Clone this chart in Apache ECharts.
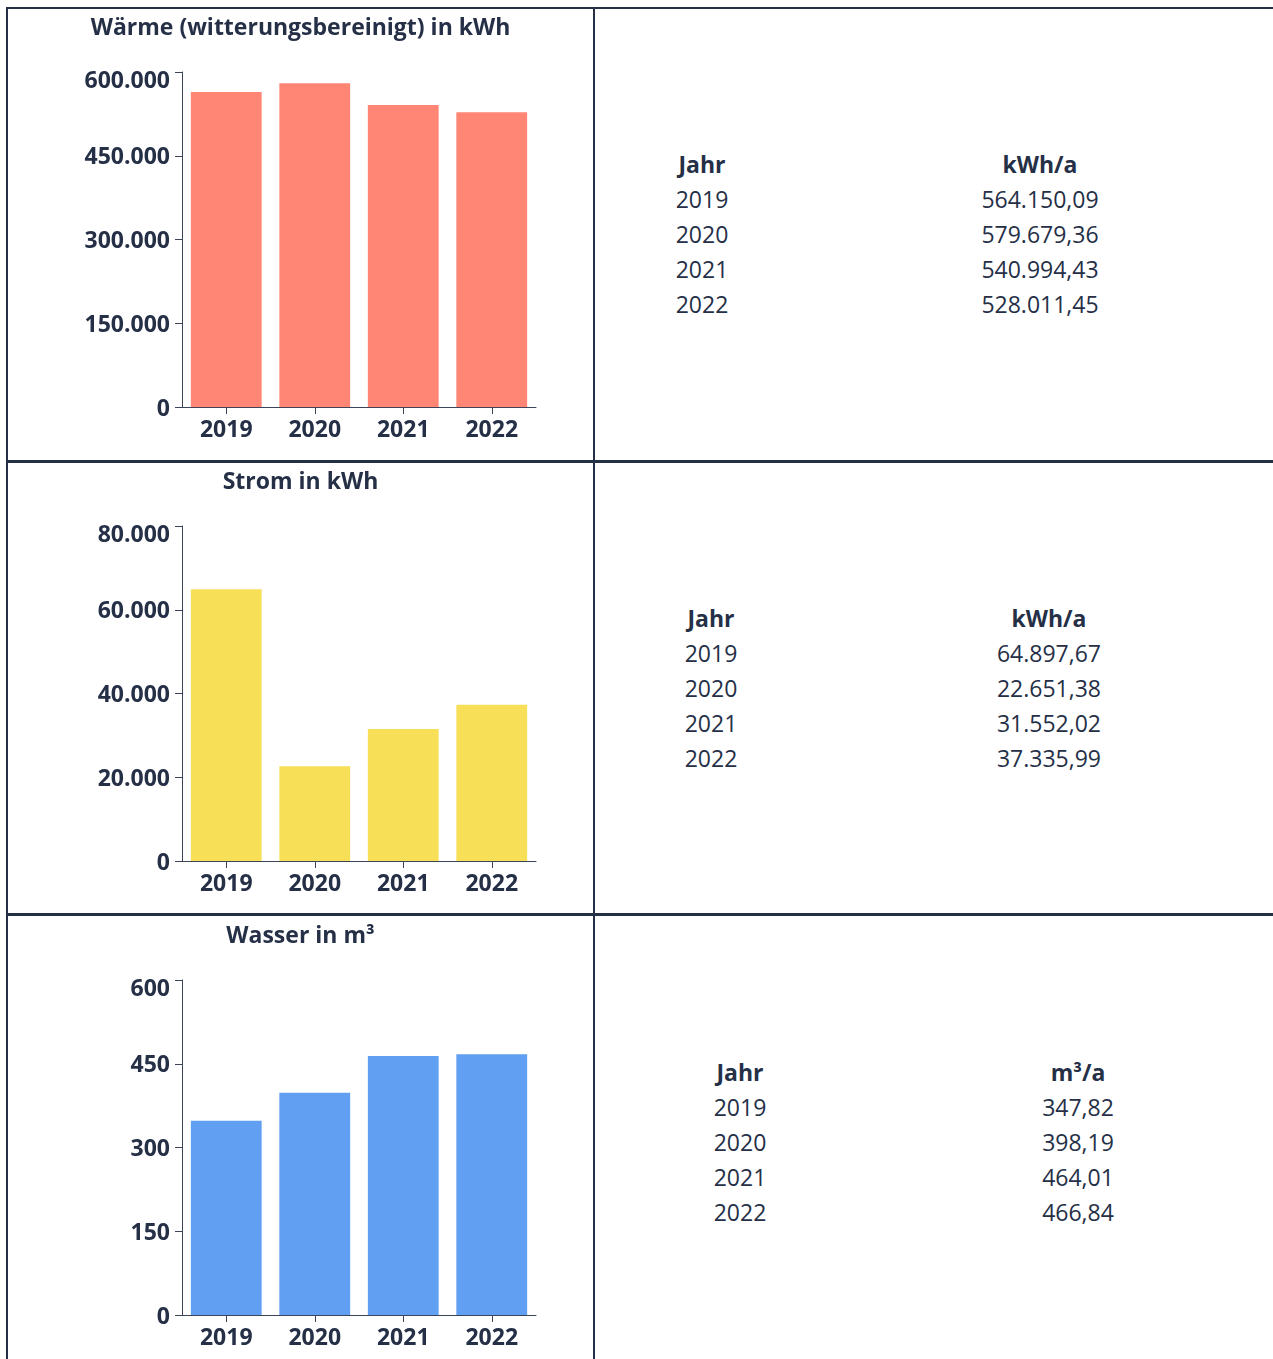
<!DOCTYPE html>
<html lang="de">
<head>
<meta charset="utf-8">
<title>Verbrauch</title>
<script src="https://cdn.jsdelivr.net/npm/echarts@6/dist/echarts.min.js"></script>
<style>
  html, body {
    margin: 0;
    padding: 0;
    background: #ffffff;
  }
  body {
    width: 1273px;
    height: 1359px;
    position: relative;
    overflow: hidden;
    font-family: 'Open Sans', sans-serif;
    color: #253047;
  }
  .line {
    position: absolute;
    background: #253047;
  }
  .chart {
    position: absolute;
    left: 8px;
    width: 585px;
    height: 452px;
  }
  .tbl {
    position: absolute;
    font-size: 23px;
    line-height: 35px;
  }
  .tbl .col {
    position: absolute;
    top: 0;
    text-align: center;
    white-space: nowrap;
  }
  .tbl .head {
    font-weight: 700;
  }
</style>
</head>
<body>
  <div class="line" style="left:6px;top:7px;width:1267px;height:2px"></div>
  <div class="line" style="left:6px;top:7px;width:2px;height:1352px"></div>
  <div class="line" style="left:593px;top:7px;width:2px;height:1352px"></div>
  <div class="line" style="left:6px;top:460px;width:1267px;height:3px"></div>
  <div class="line" style="left:6px;top:913px;width:1267px;height:3px"></div>

  <div id="chart-waerme" class="chart" style="top:8px"></div>
  <div id="chart-strom" class="chart" style="top:462px"></div>
  <div id="chart-wasser" class="chart" style="top:916px"></div>

  <div id="tbl-waerme" class="tbl"></div>
  <div id="tbl-strom" class="tbl"></div>
  <div id="tbl-wasser" class="tbl"></div>

<script>
(function () {
  'use strict';

  var jahre = ['2019', '2020', '2021', '2022'];

  var waerme = [564150.09, 579679.36, 540994.43, 528011.45];
  var strom = [64897.67, 22651.38, 31552.02, 37335.99];
  var wasser = [347.82, 398.19, 464.01, 466.84];

  // y-axis: min, max and step per chart
  var waermeAxis = [0, 600000, 150000];
  var stromAxis = [0, 80000, 20000];
  var wasserAxis = [0, 600, 150];

  var textColor = '#253047';
  var axisColor = '#3b4459';

  function tausender(v) {
    var s = String(Math.round(v));
    return s.replace(/\B(?=(\d{3})+(?!\d))/g, '.');
  }

  function zahlDE(v) {
    var parts = v.toFixed(2).split('.');
    return tausender(Number(parts[0])) + ',' + parts[1];
  }

  function initChart(id, title, data, axis, color) {
    var chart = echarts.init(document.getElementById(id), null, {renderer: 'canvas'});
    var labelFont = {
      fontFamily: 'Open Sans',
      fontWeight: 700,
      fontSize: 23,
      color: textColor
    };
    var option = {
      animation: false,
      title: {
        text: title,
        left: 'center',
        top: 8,
        padding: 0,
        textStyle: {
          fontFamily: 'Open Sans',
          fontWeight: 700,
          fontSize: 23,
          lineHeight: 24,
          color: textColor
        }
      },
      grid: {
        left: 174,
        top: 64,
        width: 354,
        height: 335,
        containLabel: false
      },
      xAxis: {
        type: 'category',
        data: jahre,
        axisLine: {
          show: true,
          lineStyle: {color: axisColor, width: 1}
        },
        axisTick: {
          show: true,
          alignWithLabel: true,
          length: 7,
          lineStyle: {color: axisColor, width: 1}
        },
        axisLabel: {
          margin: 12,
          fontFamily: 'Open Sans',
          fontWeight: 700,
          fontSize: 23,
          color: textColor
        }
      },
      yAxis: {
        type: 'value',
        min: axis[0],
        max: axis[1],
        interval: axis[2],
        axisLine: {
          show: true,
          lineStyle: {color: axisColor, width: 1}
        },
        axisTick: {
          show: true,
          length: 7,
          lineStyle: {color: axisColor, width: 1}
        },
        splitLine: {show: false},
        axisLabel: {
          margin: 12,
          fontFamily: 'Open Sans',
          fontWeight: 700,
          fontSize: 23,
          color: textColor,
          formatter: function (v) {
            // top label sits a bit lower in the original
            if (v === axis[1]) {
              return '{top|' + tausender(v) + '}';
            }
            return '{n|' + tausender(v) + '}';
          },
          rich: {
            n: echarts.util.extend({padding: [4, 0, 0, 0]}, labelFont),
            top: echarts.util.extend({padding: [18, 0, 0, 0]}, labelFont)
          }
        }
      },
      series: [
        {
          type: 'bar',
          data: data,
          barCategoryGap: '20%',
          itemStyle: {color: color}
        }
      ]
    };
    chart.setOption(option);
    return chart;
  }

  function initTable(id, einheit, data, top, c1, c2) {
    var el = document.getElementById(id);
    el.style.top = top + 'px';
    el.style.left = '0px';
    var col1 = '<div class="head">Jahr</div>';
    var col2 = '<div class="head">' + einheit + '</div>';
    for (var i = 0; i < jahre.length; i++) {
      col1 += '<div>' + jahre[i] + '</div>';
      col2 += '<div>' + zahlDE(data[i]) + '</div>';
    }
    el.innerHTML =
      '<div class="col" style="left:' + (c1 - 100) + 'px;width:200px">' + col1 + '</div>' +
      '<div class="col" style="left:' + (c2 - 120) + 'px;width:240px">' + col2 + '</div>';
  }

  initChart('chart-waerme', 'Wärme (witterungsbereinigt) in kWh', waerme, waermeAxis, '#ff8674');
  initChart('chart-strom', 'Strom in kWh', strom, stromAxis, '#f7df57');
  initChart('chart-wasser', 'Wasser in m³', wasser, wasserAxis, '#619ff3');

  initTable('tbl-waerme', 'kWh/a', waerme, 147, 702, 1040);
  initTable('tbl-strom', 'kWh/a', strom, 601, 711, 1049);
  initTable('tbl-wasser', 'm³/a', wasser, 1055, 740, 1078);
})();
</script>
</body>
</html>
